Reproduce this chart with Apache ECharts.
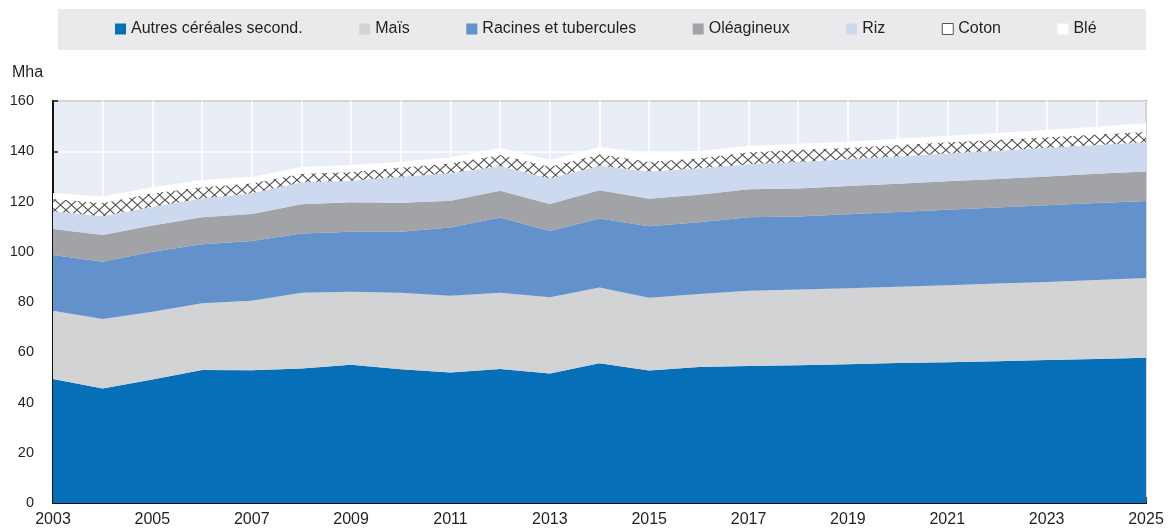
<!DOCTYPE html>
<html>
<head>
<meta charset="utf-8">
<script src="https://cdn.jsdelivr.net/npm/echarts@6/dist/echarts.min.js"></script>
<style>
  html, body { margin: 0; padding: 0; background: #fff; }
  #chart { width: 1169px; height: 528px; }
</style>
</head>
<body>
<div id="chart"></div>
<script>
var years = ['2003','2004','2005','2006','2007','2008','2009','2010','2011','2012','2013','2014',
             '2015','2016','2017','2018','2019','2020','2021','2022','2023','2024','2025'];

var autres = [49.4, 45.6, 49.2, 52.9, 52.8, 53.5, 55.0, 53.2, 51.9, 53.3, 51.5, 55.6,
              52.7, 54.1, 54.5, 54.8, 55.2, 55.7, 56.0, 56.4, 56.9, 57.3, 57.8];
var mais = [27.1, 27.6, 26.9, 26.6, 27.7, 30.2, 29.1, 30.5, 30.6, 30.4, 30.4, 30.2,
            29.0, 29.1, 30.0, 30.2, 30.3, 30.4, 30.7, 31.0, 31.1, 31.5, 31.8];
var racines = [22.2, 22.8, 23.9, 23.5, 23.8, 23.6, 23.9, 24.3, 27.2, 29.9, 26.4, 27.4,
               28.4, 28.5, 29.2, 29.0, 29.4, 29.7, 30.0, 30.2, 30.5, 30.6, 30.6];
var oleagineux = [10.4, 10.7, 10.4, 10.7, 10.7, 11.6, 11.7, 11.5, 10.6, 10.7, 10.7, 11.3,
                  11.0, 11.0, 11.2, 11.2, 11.3, 11.3, 11.4, 11.4, 11.5, 11.6, 11.7];
var riz = [7.0, 7.4, 7.5, 7.5, 8.3, 8.8, 8.6, 10.4, 10.9, 9.8, 10.2, 9.7,
           10.8, 10.5, 9.9, 10.5, 10.6, 10.8, 11.0, 11.2, 11.4, 11.5, 11.7];
var coton = [4.9, 5.3, 5.4, 4.5, 4.0, 3.3, 3.4, 3.6, 4.0, 4.4, 4.6, 4.6,
             3.9, 4.0, 4.8, 4.9, 4.6, 4.6, 4.5, 4.4, 4.2, 4.2, 4.2];
var ble = [2.4, 2.6, 2.4, 2.9, 2.5, 2.7, 2.8, 2.3, 2.4, 2.8, 2.7, 2.9,
           3.4, 2.9, 2.5, 2.4, 2.4, 2.5, 2.5, 2.7, 2.9, 3.1, 3.3];

var yTicks = [0, 20, 40, 60, 80, 100, 120, 140, 160];

var FONT = '"Liberation Sans", Arial, sans-serif';
var TXT = '#231f20';

// motif du coton : fond blanc, croisillons gris foncé
function makeHatch() {
    var c = document.createElement('canvas');
    c.width = 11; c.height = 10;
    var ctx = c.getContext('2d');
    ctx.fillStyle = '#fff';
    ctx.fillRect(0, 0, 11, 10);
    ctx.strokeStyle = '#505050';
    ctx.lineWidth = 1.1;
    ctx.beginPath();
    ctx.moveTo(0, 0); ctx.lineTo(11, 10);
    ctx.moveTo(0, 10); ctx.lineTo(11, 0);
    ctx.stroke();
    return c;
}

var hatch = { image: makeHatch(), repeat: 'repeat' };

function areaSeries(name, data, color, fill) {
    return {
        name: name,
        type: 'line',
        stack: 'total',
        data: data,
        symbol: 'none',
        silent: true,
        lineStyle: { width: 0, color: color },
        itemStyle: { color: color },
        areaStyle: { color: fill || color, opacity: 1 }
    };
}

var myChart = echarts.init(document.getElementById('chart'), null, { renderer: 'canvas' });

myChart.setOption({
    animation: false,
    backgroundColor: '#fff',
    textStyle: { fontFamily: FONT },
    graphic: [
        {
            type: 'rect', left: 58, top: 9, z: -10,
            shape: { width: 1088, height: 41 },
            style: { fill: '#eaeaec' }
        },
        {
            type: 'text', left: 12, top: 65,
            style: { text: 'Mha', font: '16px ' + FONT, fill: TXT }
        }
    ],
    legend: {
        left: 115,
        top: 21,
        padding: 0,
        itemGap: 56.5,
        itemWidth: 11,
        itemHeight: 11,
        icon: 'rect',
        selectedMode: false,
        textStyle: { fontSize: 16, color: TXT, fontFamily: FONT },
        data: [
            { name: 'Autres céréales second.', itemStyle: { color: '#0570b8' } },
            { name: 'Maïs', itemStyle: { color: '#d2d3d5' } },
            { name: 'Racines et tubercules', itemStyle: { color: '#6391cb' } },
            { name: 'Oléagineux', itemStyle: { color: '#a2a3a6' } },
            { name: 'Riz', itemStyle: { color: '#ccd9ee' } },
            { name: 'Coton', itemStyle: { color: '#fff', borderColor: '#555', borderWidth: 1 } },
            { name: 'Blé', itemStyle: { color: '#fff' } }
        ]
    },
    grid: {
        left: 53, right: 23, top: 101, bottom: 25,
        show: true,
        backgroundColor: '#e9edf6',
        borderColor: '#222',
        borderWidth: 1.5
    },
    xAxis: {
        type: 'category',
        data: years,
        boundaryGap: false,
        axisLine: { lineStyle: { color: '#111', width: 2 } },
        axisTick: { inside: true, length: 6, interval: 0, lineStyle: { color: '#111', width: 1.5 } },
        axisLabel: { interval: 1, margin: 9, fontSize: 16, color: TXT, fontFamily: FONT },
        splitLine: { show: true, interval: 0, lineStyle: { color: '#fff', width: 1.5 } }
    },
    yAxis: {
        type: 'value',
        min: yTicks[0],
        max: yTicks[yTicks.length - 1],
        interval: 20,
        axisLine: { show: true, lineStyle: { color: '#111', width: 2 } },
        axisTick: { show: true, inside: true, length: 5, lineStyle: { color: '#111', width: 1.5 } },
        axisLabel: { margin: 19, fontSize: 14.5, color: TXT, fontFamily: FONT },
        splitLine: { lineStyle: { color: '#fff', width: 1.5 } }
    },
    series: [
        areaSeries('Autres céréales second.', autres, '#0570b8'),
        areaSeries('Maïs', mais, '#d2d3d5'),
        areaSeries('Racines et tubercules', racines, '#6391cb'),
        areaSeries('Oléagineux', oleagineux, '#a2a3a6'),
        areaSeries('Riz', riz, '#ccd9ee'),
        areaSeries('Coton', coton, '#555', hatch),
        areaSeries('Blé', ble, '#fff')
    ]
});
</script>
</body>
</html>
